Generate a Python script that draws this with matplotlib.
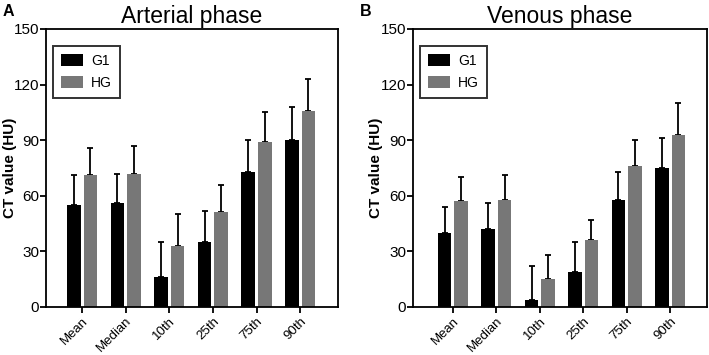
import numpy as np
import matplotlib
matplotlib.use("Agg")
import matplotlib.pyplot as plt
from matplotlib.patches import Patch

plt.rcParams['font.family'] = ['Liberation Sans', 'DejaVu Sans']

categories = ["Mean", "Median", "10th", "25th", "75th", "90th"]

# arterial phase (mean bar height, top of error bar)
art_g1 = [55, 56, 16, 35, 73, 90]
art_g1_top = [71, 72, 35, 52, 90, 108]
art_hg = [71, 72, 33, 51, 89, 106]
art_hg_top = [86, 87, 50, 66, 105, 123]

# venous phase
ven_g1 = [40, 42, 4, 19, 58, 75]
ven_g1_top = [54, 56, 22, 35, 73, 91]
ven_hg = [57, 58, 15, 36, 76, 93]
ven_hg_top = [70, 71, 28, 47, 90, 110]

W, H = 709, 355
fig = plt.figure(figsize=(W / 100, H / 100), dpi=100)

def px_axes(x0, x1, y0, y1):
    return fig.add_axes([x0 / W, 1 - y1 / H, (x1 - x0) / W, (y1 - y0) / H])

def panel(ax, g1, g1_top, hg, hg_top, title, letter, xlim, letter_x, ylab_x):
    x = np.arange(len(categories))
    w = 0.31
    off = 0.19
    g1_err = np.array(g1_top) - np.array(g1)
    hg_err = np.array(hg_top) - np.array(hg)
    ax.bar(x - off, g1, w, color="black", zorder=2)
    ax.bar(x + off, hg, w, color="#777777", zorder=2)
    ax.errorbar(x - off, g1, yerr=[np.zeros(len(x)), g1_err], fmt="none",
                ecolor="black", elinewidth=1.3, capsize=2, capthick=1.3, zorder=1)
    ax.errorbar(x + off, hg, yerr=[np.zeros(len(x)), hg_err], fmt="none",
                ecolor="black", elinewidth=1.3, capsize=2, capthick=1.3, zorder=1)
    ax.set_xlim(xlim)
    ax.set_ylim(0, 150)
    ax.set_yticks([0, 30, 60, 90, 120, 150])
    ax.set_xticks(x)
    ax.set_xticklabels(categories, rotation=45, ha="right", rotation_mode="anchor",
                       fontsize=9.5)
    ax.tick_params(axis="y", labelsize=11, width=1.3, length=4, pad=1)
    ax.tick_params(axis="x", width=1.3, length=4, pad=2)
    for s in ax.spines.values():
        s.set_linewidth(1.3)
    ax.set_ylabel("CT value (HU)", fontsize=11, fontweight="bold")
    ax.yaxis.set_label_coords(ylab_x, 0.5)
    ax.set_title(title, fontsize=16.5, pad=4)
    fig.text(letter_x / W, 1 - 11 / H, letter, fontsize=11.5, fontweight="bold",
             va="center", ha="left")
    handles = [Patch(facecolor="black"), Patch(facecolor="#777777")]
    leg = ax.legend(handles, ["G1", "HG"], loc="upper left", fontsize=10,
                    frameon=True, fancybox=False, edgecolor="black",
                    borderpad=0.55, handlelength=1.6, handleheight=0.9,
                    handletextpad=0.6, labelspacing=0.6, borderaxespad=0,
                    bbox_to_anchor=(0.024, 0.939))
    leg.get_frame().set_linewidth(1.4)

ax1 = px_axes(46, 338, 29, 307)
panel(ax1, art_g1, art_g1_top, art_hg, art_hg_top, "Arterial phase", "A",
      (-0.83, 5.87), 3, -0.10)
ax2 = px_axes(413, 707, 29, 307)
panel(ax2, ven_g1, ven_g1_top, ven_hg, ven_hg_top, "Venous phase", "B",
      (-0.92, 5.85), 360, -0.102)

fig.savefig("out.png", dpi=100)
